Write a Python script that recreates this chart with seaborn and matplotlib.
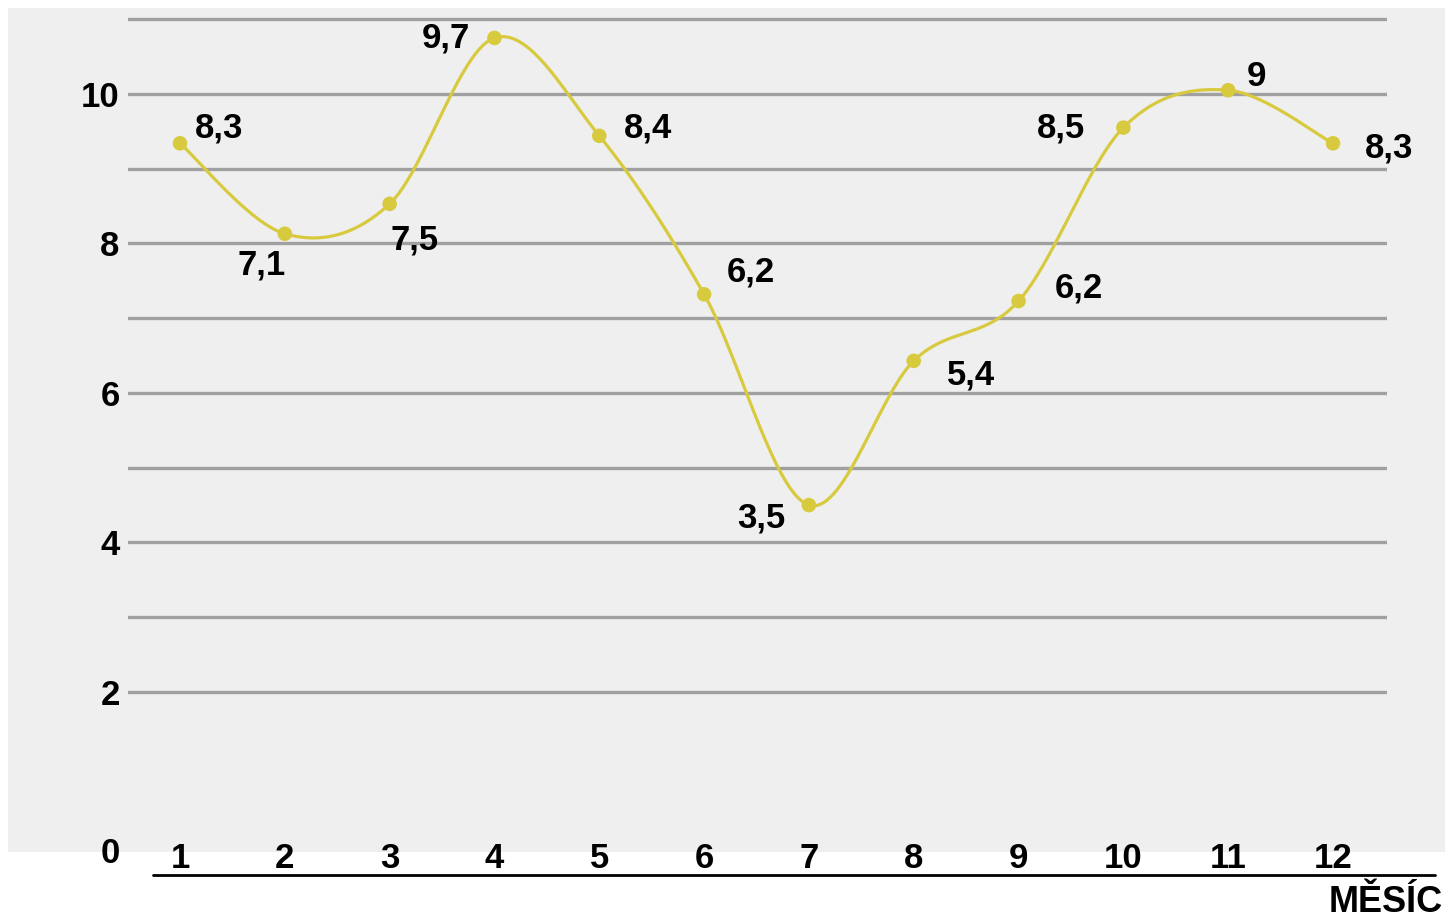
import numpy as np
import pandas as pd
import matplotlib
matplotlib.use("Agg")
import matplotlib.pyplot as plt
from matplotlib.patches import Rectangle
from matplotlib.lines import Line2D
import seaborn as sns

# data
months = [1, 2, 3, 4, 5, 6, 7, 8, 9, 10, 11, 12]
plotted = [9.34, 8.13, 8.53, 10.75, 9.44, 7.32, 4.50, 6.43, 7.23, 9.55, 10.05, 9.34]
value_labels = ["8,3", "7,1", "7,5", "9,7", "8,4", "6,2", "3,5", "5,4", "6,2", "8,5", "9", "8,3"]
y_ticks = [0, 2, 4, 6, 8, 10]
grid_levels = [2, 3, 4, 5, 6, 7, 8, 9, 10, 11]
x_title = "MĚSÍC"

# label offsets in pixels (dx right, dy down)
label_offsets = [(39, -15), (-23, 31), (25, 36), (-49, 0), (49, -8), (47, -22),
                 (-48, 13), (57, 14), (60, -13), (-62, 0), (28, -14), (56, 5)]

YELLOW = "#d8ca3e"
GRID = "#a0a0a0"
PANEL = "#efefef"
FS = 25


def smooth(x, y, n=40):
    """catmull-rom pro hladkou caru"""
    p = np.column_stack([x, y]).astype(float)
    p = np.vstack([p[0], p, p[-1]])
    t = np.linspace(0, 1, n)[:, None]
    out = []
    for i in range(1, len(p) - 2):
        p0, p1, p2, p3 = p[i - 1], p[i], p[i + 1], p[i + 2]
        seg = 0.5 * (2 * p1 + (-p0 + p2) * t + (2 * p0 - 5 * p1 + 4 * p2 - p3) * t ** 2
                     + (-p0 + 3 * p1 - 3 * p2 + p3) * t ** 3)
        out.append(seg if i == 1 else seg[1:])
    out = np.vstack(out)
    return out[:, 0], out[:, 1]


sns.set_style("white")
plt.rcParams['font.family'] = ['Liberation Sans', 'DejaVu Sans']
plt.rcParams['font.weight'] = 'bold'

W, H = 1445, 918
fig = plt.figure(figsize=(W / 100, H / 100), dpi=100)
fig.patch.set_facecolor("white")
fig.patches.append(Rectangle((8 / W, 1 - 852 / H), 1437 / W, 844 / H,
                             transform=fig.transFigure, facecolor=PANEL,
                             edgecolor="none", zorder=-5))

ax = fig.add_axes([128 / W, 1 - 841.5 / H, (1387 - 128) / W, (841.5 - 8) / H])
ax.set_zorder(2)
ax.set_facecolor("none")
ax.set_xlim(0.504, 12.515)
ax.set_ylim(0, 11.15)

for g in grid_levels:
    ax.axhline(g, color=GRID, lw=2.4, zorder=1)

sx, sy = smooth(months, plotted)
curve = pd.DataFrame({"x": sx, "y": sy})
pts = pd.DataFrame({"month": months, "value": plotted})
sns.lineplot(data=curve, x="x", y="y", sort=False, color=YELLOW, lw=2.3, ax=ax, zorder=3)
sns.scatterplot(data=pts, x="month", y="value", color=YELLOW, s=110, edgecolor="none",
                ax=ax, zorder=4)

for m, v, lab, (dx, dy) in zip(months, plotted, value_labels, label_offsets):
    ax.annotate(lab, (m, v), xytext=(dx, -dy), textcoords="offset pixels",
                ha="center", va="center", fontsize=FS, fontweight="bold", color="black",
                annotation_clip=False)

ax.set_xticks(months)
ax.set_xticklabels([str(m) for m in months])
ax.set_yticks(y_ticks)
# nula sedi v originale trochu niz, dam ji zvlast
ax.set_yticklabels(["" if t == 0 else str(t) for t in y_ticks])
ax.annotate("0", (0, 0), xycoords=("axes fraction", "data"), xytext=(-8, -12),
            textcoords="offset pixels", ha="right", va="center",
            fontsize=FS, fontweight="bold", color="black", annotation_clip=False)
ax.tick_params(axis="both", length=0, labelsize=FS, colors="black")
ax.tick_params(axis="x", pad=0)
ax.tick_params(axis="y", pad=6)
for lab in ax.get_xticklabels() + ax.get_yticklabels():
    lab.set_fontweight("bold")
ax.set_xlabel("")
ax.set_ylabel("")
for s in ax.spines.values():
    s.set_visible(False)

fig.add_artist(Line2D([153 / W, 1435 / W], [1 - 875 / H, 1 - 875 / H],
                      transform=fig.transFigure, color="black", lw=2))
fig.text(1443 / W, 1 - 903 / H, x_title, ha="right", va="center",
         fontsize=FS + 1, fontweight="bold", color="black")

fig.savefig("out.png", dpi=100, facecolor="white")
